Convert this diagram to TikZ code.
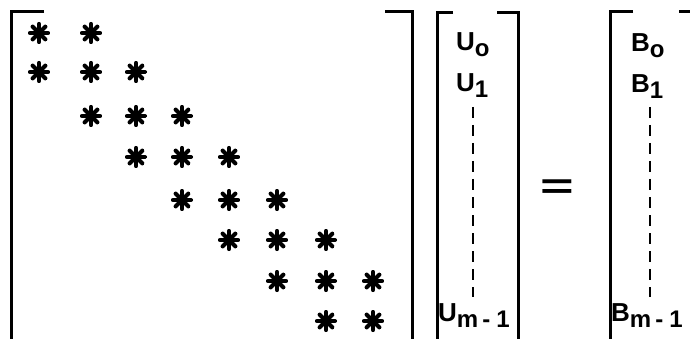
\documentclass[tikz,border=0pt]{standalone}
\usepackage{fontspec}
\setmainfont{Liberation Sans}
\usepackage{graphicx}
\usetikzlibrary{positioning}

% lowered index, printed nearly full size
\newcommand{\subidx}[1]{\raisebox{-6pt}{\fontsize{24}{24}\selectfont #1}}

\begin{document}
\begin{tikzpicture}[
  x=1pt, y=-1pt,
  entry/.style={
    circle, minimum size=22pt, inner sep=0pt,
    path picture={
      \fill (path picture bounding box.center) circle (5pt);
      \foreach \a in {0,45,90,135}
        \draw[line width=4.2pt, line cap=round]
          ([shift={(\a:9pt)}]path picture bounding box.center) --
          ([shift={(\a+180:9pt)}]path picture bounding box.center);
    }
  },
  bracket/.style={line width=3pt},
  elem/.style={anchor=base west, inner sep=0pt, font=\bfseries\fontsize{26}{26}\selectfont},
  vdots/.style={line width=2pt, dash pattern=on 11pt off 7pt}
]
\useasboundingbox (0,0) rectangle (690,339);

% ---- Tridiagonal matrix ----
\foreach \r/\y in {1/33,2/72,3/116,4/157,5/200,6/240,7/281,8/321}
  \foreach \c/\x in {1/39,2/91,3/136,4/182,5/229,6/277,7/326,8/373}{
    \pgfmathtruncatemacro\d{abs(\r-\c)}
    \ifnum\d<2
      \node[entry] (a\r\c) at (\x,\y) {};
    \fi
  }

\draw[bracket] (44,12) -| (11,342);
\draw[bracket] (385,12) -| (412,342);

% ---- Unknowns ----
\node[elem] (u0) at (456,51) {U\subidx{o}};
\node[elem] (u1) at (456,92) {U\subidx{1}};
\node[elem] (um) at (438,321) {U\subidx{m\kern4pt-\kern6pt1}};
\draw[vdots] (473,107) -- (473,297);

\draw[bracket] (453,13) -| (437,342);
\draw[bracket] (497,13) -| (518,342);

% ---- Equals ----
\node[inner sep=0pt] (eq) at (557,189)
  {\scalebox{2.4}[1.5]{\bfseries\fontsize{24}{24}\selectfont =}};

% ---- Right hand side ----
\node[elem] (b0) at (631,52) {B\subidx{o}};
\node[elem] (b1) at (631,93) {B\subidx{1}};
\node[elem] (bm) at (611,321) {B\subidx{m\kern4pt-\kern6pt1}};
\draw[vdots] (650,107) -- (650,297);

\draw[bracket] (633,12) -| (610,342);
\draw[bracket] (679,12) -| (692,342);

\end{tikzpicture}
\end{document}
